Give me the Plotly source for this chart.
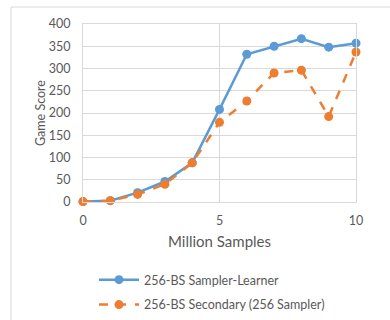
import plotly.graph_objects as go

samples = [0, 1, 2, 3, 4, 5, 6, 7, 8, 9, 10]
sampler_learner = [1, 3, 21, 46, 88, 208, 332, 350, 367, 348, 357]
secondary = [1, 3, 17, 40, 88, 179, 227, 290, 296, 192, 337]
series_names = ["256-BS Sampler-Learner", "256-BS Secondary (256 Sampler)"]
y_title = "Game Score"
x_title = "Million Samples"

font = "Lato, Liberation Sans, sans-serif"
gray = "#595959"
grid = "#D9D9D9"

fig = go.Figure()
fig.add_trace(go.Scatter(x=samples, y=sampler_learner, mode="lines+markers",
                         name=series_names[0], legend="legend", showlegend=True,
                         line=dict(color="#5B9BD5", width=2.5),
                         marker=dict(size=9, color="#5B9BD5"), cliponaxis=False))
fig.add_trace(go.Scatter(x=samples, y=secondary, mode="lines+markers",
                         name=series_names[1], legend="legend2", showlegend=True,
                         line=dict(color="#ED7D31", width=2.5, dash="dash"),
                         marker=dict(size=9, color="#ED7D31"), cliponaxis=False))

fig.update_layout(
    width=390, height=320,
    margin=dict(l=83, r=34, t=24, b=118, autoexpand=False),
    paper_bgcolor="white", plot_bgcolor="white",
    showlegend=True,
    font=dict(family=font, size=12.5, color=gray),
    xaxis=dict(range=[0, 10], tickvals=[0, 5, 10], showgrid=True, gridcolor=grid,
               showline=True, linecolor=grid, mirror=True,
               zeroline=False, ticks="outside", ticklen=7, tickcolor="rgba(0,0,0,0)",
               title=dict(text=x_title, standoff=9)),
    yaxis=dict(range=[0, 400], dtick=50, showgrid=True, gridcolor=grid,
               showline=True, linecolor=grid, mirror=True,
               zeroline=False, ticks="outside", ticklen=9, tickcolor="rgba(0,0,0,0)"),
    legend=dict(xref="container", yref="container", x=0.241, y=0.125,
                xanchor="left", yanchor="middle", bgcolor="rgba(0,0,0,0)",
                itemwidth=40, font=dict(size=12.5, color=gray)),
    legend2=dict(xref="container", yref="container", x=0.241, y=0.047,
                 xanchor="left", yanchor="middle", bgcolor="rgba(0,0,0,0)",
                 itemwidth=40, font=dict(size=12.5, color=gray)),
    annotations=[dict(text=y_title, xref="paper", yref="paper", x=-0.1575, y=0.5,
                      xanchor="center", yanchor="middle", textangle=-90, showarrow=False,
                      font=dict(size=12.5, color=gray))],
    shapes=[dict(type="rect", xref="paper", yref="paper", x0=-0.2637, y0=-0.8, x1=1.3, y1=1.0955,
                 line=dict(color=grid, width=1), fillcolor="rgba(0,0,0,0)", layer="below")],
)

fig.write_html("out.html")
